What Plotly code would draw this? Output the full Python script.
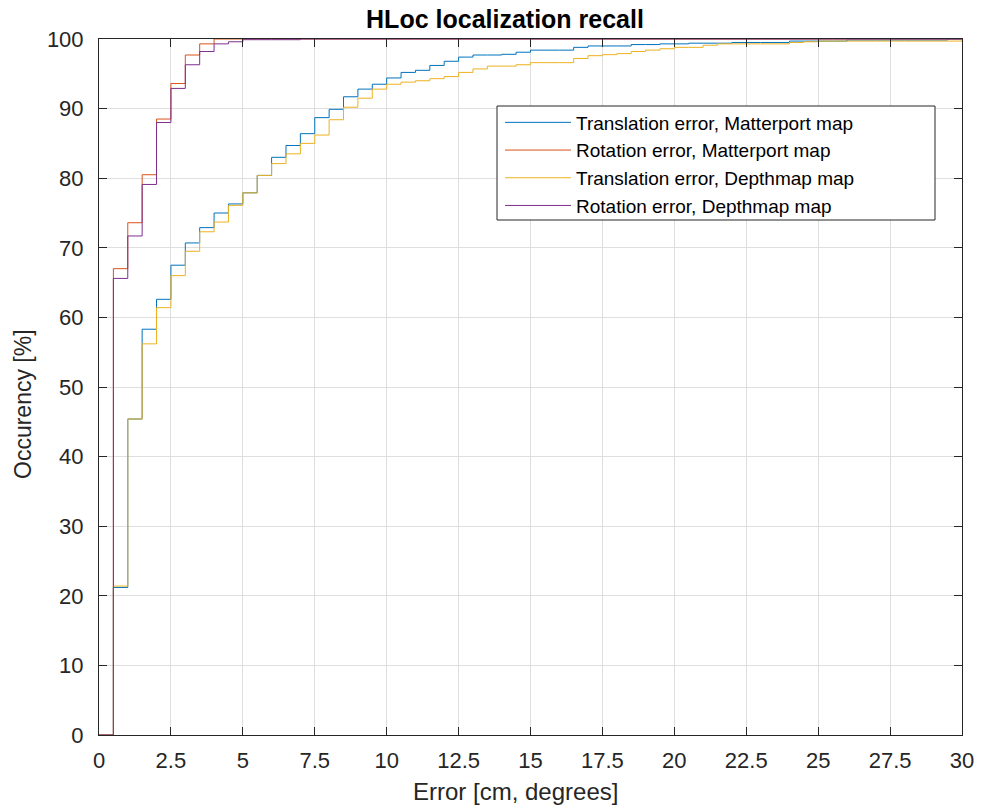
import numpy as np
import plotly.graph_objects as go

# Bin edges of the cumulative error histogram (0.5 cm / degree bins)
edges = np.arange(0, 30.5, 0.5)

# Cumulative recall [%] at each bin edge, 0 .. 30
trans_matterport = [
    0, 21.2, 45.4, 58.3, 62.6, 67.5, 70.7, 72.9, 75.0, 76.3,
    77.9, 80.4, 83.0, 84.7, 86.4, 88.7, 89.9, 91.7, 92.8, 93.5,
    94.4, 95.2, 95.5, 96.2, 96.8, 97.4, 97.7, 97.7, 97.8, 98.1,
    98.4, 98.4, 98.4, 98.8, 99.0, 99.0, 99.0, 99.2, 99.2, 99.3,
    99.3, 99.4, 99.4, 99.4, 99.5, 99.5, 99.5, 99.5, 99.7, 99.7,
    99.7, 99.7, 99.85, 99.85, 99.85, 99.85, 99.85, 99.85, 99.85, 100, 100,
]
rot_matterport = [
    0, 67.0, 73.6, 80.5, 88.5, 93.6, 97.7, 99.3, 100, 100,
    100, 100, 100, 100, 100, 100, 100, 100, 100, 100,
    100, 100, 100, 100, 100, 100, 100, 100, 100, 100,
    100, 100, 100, 100, 100, 100, 100, 100, 100, 100,
    100, 100, 100, 100, 100, 100, 100, 100, 100, 100,
    100, 100, 100, 100, 100, 100, 100, 100, 100, 100, 100,
]
trans_depthmap = [
    0, 21.4, 45.4, 56.2, 61.4, 66.0, 69.5, 72.3, 73.7, 76.1,
    77.9, 80.4, 82.1, 83.5, 85.0, 86.2, 88.4, 90.2, 91.5, 92.8,
    93.5, 93.8, 94.0, 94.3, 94.6, 95.2, 95.7, 96.1, 96.1, 96.3,
    96.6, 96.6, 96.6, 97.2, 97.6, 97.75, 97.9, 98.2, 98.4, 98.6,
    98.8, 98.8, 99.1, 99.3, 99.3, 99.3, 99.3, 99.3, 99.5, 99.6,
    99.7, 99.7, 99.7, 99.7, 99.7, 99.7, 99.7, 99.7, 99.7, 99.7, 100,
]
rot_depthmap = [
    0, 65.6, 71.7, 79.1, 88.0, 92.9, 96.3, 98.2, 99.3, 99.6,
    99.9, 99.9, 99.9, 99.9, 100, 100, 100, 100, 100, 100,
    100, 100, 100, 100, 100, 100, 100, 100, 100, 100,
    100, 100, 100, 100, 100, 100, 100, 100, 100, 100,
    100, 100, 100, 100, 100, 100, 100, 100, 100, 100,
    100, 100, 100, 100, 100, 100, 100, 100, 100, 100, 100,
]

series_names = [
    "Translation error, Matterport map",
    "Rotation error, Matterport map",
    "Translation error, Depthmap map",
    "Rotation error, Depthmap map",
]
x_ticks = [0, 2.5, 5, 7.5, 10, 12.5, 15, 17.5, 20, 22.5, 25, 27.5, 30]
y_ticks = list(range(0, 101, 10))

colors = ["#0072BD", "#D95319", "#EDB120", "#7E2F8E"]
FONT = "Liberation Sans, Arial, Helvetica, sans-serif"
INK = "#262626"

# Plot-area geometry in pixels
W, H = 981, 807
L, R, T, B = 99, 19, 39, 72
PW, PH = W - L - R, H - T - B


def px_x(p):
    return (p - L) / PW


def px_y(p):
    return (H - B - p) / PH


fig = go.Figure()
for name, vals, col in zip(
    series_names,
    [trans_matterport, rot_matterport, trans_depthmap, rot_depthmap],
    colors,
):
    fig.add_trace(go.Scatter(
        x=edges, y=vals, name=name, mode="lines",
        line=dict(color=col, width=1, shape="hv"),
    ))

axis_common = dict(
    showline=True, linecolor=INK, linewidth=1, mirror="allticks",
    ticks="inside", ticklen=8, tickcolor=INK, tickwidth=1,
    showgrid=True, gridcolor="#dfdfdf", gridwidth=1,
    zeroline=False, automargin=False,
    tickfont=dict(family=FONT, size=22, color=INK),
)

fig.update_xaxes(
    range=[0, 30], tickvals=x_ticks, ticktext=[f"{t:g}" for t in x_ticks],
    ticklabelstandoff=6,
    **axis_common,
)
fig.update_yaxes(
    range=[0, 100], tickvals=y_ticks,
    ticklabelstandoff=10,
    **axis_common,
)

# Legend frame
fig.add_shape(
    type="rect", xref="paper", yref="paper",
    x0=px_x(497), x1=px_x(935), y0=px_y(220), y1=px_y(106),
    line=dict(color=INK, width=1), fillcolor="white", layer="above",
)

# Axis labels
fig.add_annotation(
    text="Error [cm, degrees]", xref="paper", yref="paper",
    x=px_x(515), y=px_y(791), xanchor="center", yanchor="middle",
    showarrow=False, font=dict(family=FONT, size=24, color=INK),
)
fig.add_annotation(
    text="Occurency [%]", xref="paper", yref="paper",
    x=px_x(23), y=px_y(404), xanchor="center", yanchor="middle",
    textangle=-90, showarrow=False, font=dict(family=FONT, size=23, color=INK),
)

fig.update_layout(
    width=W, height=H,
    margin=dict(l=L, r=R, t=T, b=B),
    paper_bgcolor="white", plot_bgcolor="white",
    title=dict(
        text="<b>HLoc localization recall</b>",
        font=dict(family=FONT, size=25, color="black"),
        x=505 / W, xanchor="center", xref="container",
        y=1 - 19.5 / H, yanchor="middle", yref="container",
    ),
    legend=dict(
        x=px_x(500), y=px_y(103.5), xanchor="left", yanchor="top",
        bgcolor="rgba(0,0,0,0)", borderwidth=0,
        font=dict(family=FONT, size=19, color="black"),
        itemwidth=66, tracegroupgap=0,
    ),
    showlegend=True,
)

fig.write_html("out.html")
